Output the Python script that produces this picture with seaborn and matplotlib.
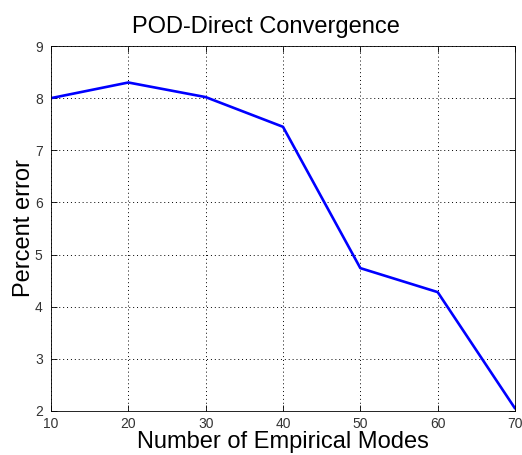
import matplotlib
matplotlib.use("Agg")
import matplotlib.pyplot as plt
import seaborn as sns
import pandas as pd

modes = [10, 20, 30, 40, 50, 60, 70]
percent_error = [8.0, 8.30, 8.02, 7.45, 4.74, 4.28, 2.05]
x_ticks = [10, 20, 30, 40, 50, 60, 70]
y_ticks = [2, 3, 4, 5, 6, 7, 8, 9]

sns.set_style("ticks")
plt.rcParams['font.family'] = ['Liberation Sans', 'DejaVu Sans']
plt.rcParams['text.color'] = 'black'
plt.rcParams['axes.labelcolor'] = 'black'

df = pd.DataFrame({"modes": modes, "err": percent_error})

fig = plt.figure(figsize=(5.22, 4.55), dpi=100)
ax = fig.add_axes([51/522, 44/455, 464/522, 365/455])
sns.lineplot(data=df, x="modes", y="err", ax=ax, color=(0, 0, 1), linewidth=1.9)

ax.set_xlim(10, 70)
ax.set_ylim(2, 9)
ax.set_xticks(x_ticks)
ax.set_yticks(y_ticks)
ax.grid(True, color="black", linestyle=(0, (1, 3)), linewidth=0.7)
ax.tick_params(direction="in", top=True, right=True, labelsize=10, colors="black",
               length=4, width=0.6, labelcolor="#333333")
ax.tick_params(axis="x", pad=4)
ax.tick_params(axis="y", pad=6)
for s in ax.spines.values():
    s.set_visible(True)
    s.set_color("black")
    s.set_linewidth(0.6)

ax.set_xlabel("Number of Empirical Modes", fontsize=17, labelpad=0, color="black")
ax.set_ylabel("Percent error", fontsize=17, labelpad=0, color="black")
ax.set_title("POD-Direct Convergence", fontsize=17, pad=9.4, x=0.463, color="black")

fig.savefig("out.png", dpi=100)
